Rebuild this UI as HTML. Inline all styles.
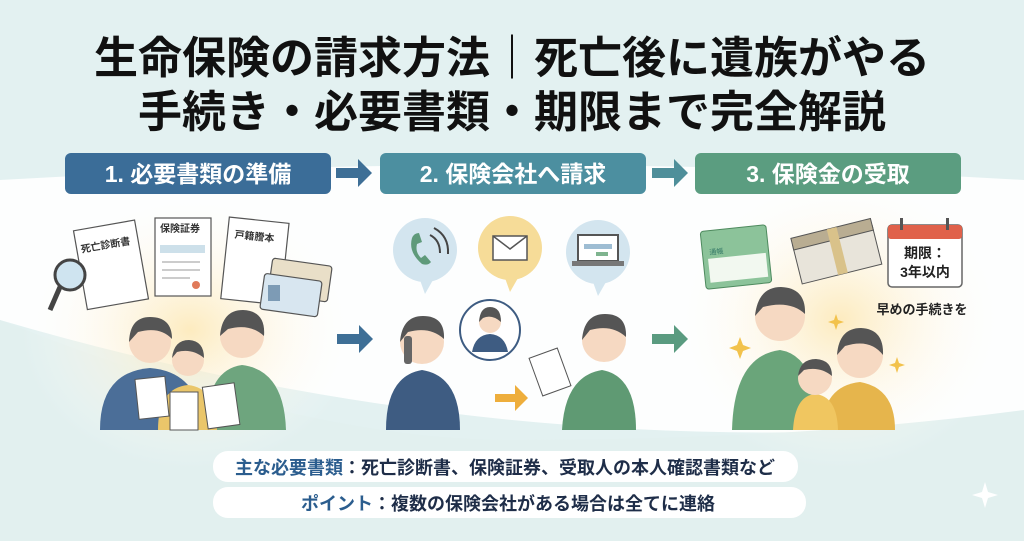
<!DOCTYPE html>
<html><head><meta charset="utf-8"><style>
html,body{margin:0;padding:0}
body{width:1024px;height:541px;overflow:hidden;font-family:"Liberation Sans","Noto Sans CJK JP",sans-serif;}
svg text{font-family:"Liberation Sans","Noto Sans CJK JP",sans-serif;}
</style></head><body>
<svg width="1024" height="541" viewBox="0 0 1024 541" xmlns="http://www.w3.org/2000/svg">
<defs>
<radialGradient id="glow" cx="0.5" cy="0.5" r="0.5">
<stop offset="0" stop-color="#fde9b8" stop-opacity="0.9"/><stop offset="1" stop-color="#fff" stop-opacity="0"/></radialGradient>
</defs>
<rect width="1024" height="541" fill="#e3f1f1"/>
<path d="M0 180 Q512 150 1024 180 L1024 420 Q512 470 0 320 Z" fill="#fdfefe"/>
<path d="M0 320 Q300 440 512 440 Q800 440 1024 410 L1024 541 L0 541Z" fill="#e2f0ef"/>
<ellipse cx="190" cy="330" rx="170" ry="140" fill="url(#glow)"/>
<ellipse cx="840" cy="320" rx="170" ry="150" fill="url(#glow)"/>

<text x="512" y="73" font-size="44" font-weight="bold" text-anchor="middle" fill="#111">生命保険の請求方法｜死亡後に遺族がやる</text>
<text x="512" y="127" font-size="44" font-weight="bold" text-anchor="middle" fill="#111">手続き・必要書類・期限まで完全解説</text>

<rect x="65" y="153" width="266" height="41" rx="6" fill="#3b6d98"/>
<text x="198" y="182" font-size="23" font-weight="bold" fill="#fff" text-anchor="middle">1. 必要書類の準備</text>
<rect x="380" y="153" width="266" height="41" rx="6" fill="#4c8fa0"/>
<text x="513" y="182" font-size="23" font-weight="bold" fill="#fff" text-anchor="middle">2. 保険会社へ請求</text>
<rect x="695" y="153" width="266" height="41" rx="6" fill="#5b9d80"/>
<text x="828" y="182" font-size="23" font-weight="bold" fill="#fff" text-anchor="middle">3. 保険金の受取</text>
<path d="M336 168h22v-9l14 14-14 14v-9h-22z" fill="#3e6f96"/>
<path d="M652 168h22v-9l14 14-14 14v-9h-22z" fill="#4f8f9a"/>
<path d="M337 334h22v-9l14 14-14 14v-9h-22z" fill="#3e6f96"/>
<path d="M652 334h22v-9l14 14-14 14v-9h-22z" fill="#5a9b80"/>
<path d="M495 394h20v-9l13 13-13 13v-9h-20z" fill="#eeae3c"/>

<g stroke="#555" stroke-width="1.2">
<rect x="80" y="225" width="62" height="80" fill="#fff" transform="rotate(-10 110 265)"/>
<rect x="155" y="218" width="56" height="78" fill="#fff"/>
<rect x="225" y="220" width="60" height="82" fill="#fff" transform="rotate(6 255 260)"/>
<rect x="270" y="262" width="60" height="36" rx="3" fill="#e9dfc8" transform="rotate(8 300 280)"/>
<rect x="262" y="277" width="58" height="36" rx="3" fill="#d8e6f0" transform="rotate(8 290 295)"/>
</g>
<text x="84" y="248" font-size="10" font-weight="bold" fill="#333" transform="rotate(-10 110 265)">死亡診断書</text>
<text x="160" y="232" font-size="10" font-weight="bold" fill="#333">保険証券</text>
<text x="232" y="240" font-size="10" font-weight="bold" fill="#333" transform="rotate(6 255 260)">戸籍謄本</text>
<rect x="160" y="245" width="45" height="8" fill="#cde0ea"/>
<g stroke="#999" stroke-width="1"><line x1="162" y1="262" x2="200" y2="262"/><line x1="162" y1="270" x2="200" y2="270"/><line x1="162" y1="278" x2="190" y2="278"/></g>
<circle cx="196" cy="285" r="4" fill="#e07a5a"/>
<rect x="268" y="285" width="12" height="16" fill="#7d9bb5"/>
<circle cx="70" cy="275" r="15" fill="#cfe4f0" stroke="#444" stroke-width="3"/>
<line x1="60" y1="287" x2="50" y2="310" stroke="#444" stroke-width="5"/>

<path d="M100 430 Q100 372 150 368 Q200 372 204 430Z" fill="#4b6e98"/>
<circle cx="150" cy="342" r="21" fill="#f6d9c2"/><path d="M129 342 Q130 317 150 317 Q172 317 172 339 Q160 326 138 332Z" fill="#555"/>
<path d="M206 430 Q206 370 242 365 Q284 370 286 430Z" fill="#6ea57e"/>
<circle cx="242" cy="336" r="22" fill="#f6d9c2"/><path d="M220 336 Q222 310 243 310 Q266 311 264 336 Q250 323 228 329Z" fill="#555"/>
<path d="M158 430 Q158 388 188 385 Q217 388 217 430Z" fill="#eac66a"/>
<circle cx="188" cy="360" r="16" fill="#f6d9c2"/><path d="M172 358 Q174 340 189 340 Q204 341 204 358 Q192 348 177 352Z" fill="#555"/>
<g fill="#fff" stroke="#555" stroke-width="1"><rect x="137" y="378" width="30" height="40" transform="rotate(-6 150 398)"/><rect x="170" y="392" width="28" height="38"/><rect x="205" y="385" width="32" height="42" transform="rotate(-8 220 405)"/></g>

<circle cx="425" cy="250" r="32" fill="#d3e5ef"/><path d="M420 280 l5 14 l8-14z" fill="#d3e5ef"/>
<circle cx="510" cy="248" r="32" fill="#f6dc98"/><path d="M505 278 l5 14 l8-14z" fill="#f6dc98"/>
<circle cx="598" cy="252" r="32" fill="#d3e5ef"/><path d="M593 282 l5 14 l8-14z" fill="#d3e5ef"/>
<path d="M412 238 q-4 14 10 26 q6 2 9-2 l-6-7 l-4 3 q-6-6-4-14 l5-2 l-3-9 q-5 0-7 5z" fill="#5f9a7a"/>
<path d="M430 235 q10 5 10 18 M434 228 q15 8 14 26" stroke="#444" stroke-width="2" fill="none"/>
<rect x="493" y="236" width="34" height="24" fill="#fff" stroke="#555" stroke-width="1.5"/><path d="M493 236 l17 13 l17-13" stroke="#555" stroke-width="1.5" fill="none"/>
<rect x="578" y="235" width="40" height="26" fill="#fff" stroke="#555" stroke-width="2"/><rect x="572" y="261" width="52" height="5" fill="#777"/>
<rect x="584" y="244" width="28" height="5" fill="#9ebdd3"/><rect x="596" y="252" width="12" height="4" fill="#7fb48f"/>

<path d="M386 430 Q386 376 422 370 Q460 376 460 430Z" fill="#3e5c82"/>
<circle cx="422" cy="342" r="22" fill="#f6d9c2"/><path d="M400 342 Q402 316 423 316 Q445 316 444 339 Q430 326 408 332Z" fill="#555"/>
<rect x="404" y="336" width="8" height="28" rx="3" fill="#666"/>
<circle cx="490" cy="330" r="30" fill="#fff" stroke="#3e5c82" stroke-width="2"/>
<circle cx="490" cy="322" r="11" fill="#f6d9c2"/><path d="M479 322 Q480 307 490 307 Q501 307 501 322 Q492 314 483 318Z" fill="#555"/>
<path d="M472 352 Q475 335 490 334 Q505 335 508 352Z" fill="#3e5c82"/>
<path d="M562 430 Q565 376 602 370 Q636 376 636 430Z" fill="#5f9a73"/>
<circle cx="604" cy="340" r="22" fill="#f6d9c2"/><path d="M582 340 Q584 314 605 314 Q627 314 626 337 Q612 324 590 330Z" fill="#555"/>
<rect x="535" y="352" width="30" height="40" fill="#fff" stroke="#555" transform="rotate(-20 550 372)"/>

<rect x="703" y="228" width="66" height="58" rx="3" fill="#8cc39a" stroke="#4e8a5e" transform="rotate(-6 736 257)"/>
<rect x="708" y="256" width="58" height="24" fill="#f2f8f0" transform="rotate(-6 736 257)"/>
<text x="710" y="252" font-size="7" fill="#376" transform="rotate(-6 736 257)">通帳</text>
<g transform="rotate(-14 835 250)"><rect x="795" y="235" width="82" height="40" fill="#e8e4da" stroke="#555"/><rect x="795" y="228" width="82" height="12" fill="#b9ad92" stroke="#555"/><rect x="832" y="228" width="10" height="47" fill="#d9c28a"/></g>
<rect x="888" y="225" width="74" height="62" rx="4" fill="#fff" stroke="#666" stroke-width="1.5"/>
<rect x="888" y="225" width="74" height="14" rx="3" fill="#e0614a"/>
<rect x="900" y="218" width="3" height="12" fill="#555"/><rect x="946" y="218" width="3" height="12" fill="#555"/>
<text x="925" y="258" font-size="14" font-weight="bold" text-anchor="middle" fill="#222">期限：</text>
<text x="925" y="277" font-size="14" font-weight="bold" text-anchor="middle" fill="#222">3年以内</text>
<text x="922" y="314" font-size="13" font-weight="bold" text-anchor="middle" fill="#222">早めの手続きを</text>
<path d="M732 430 Q734 356 780 350 Q818 356 818 430Z" fill="#6aa57a"/>
<circle cx="780" cy="316" r="25" fill="#f6d9c2"/><path d="M755 316 Q758 287 781 287 Q806 288 805 314 Q790 300 763 307Z" fill="#555"/>
<path d="M822 430 Q823 386 860 382 Q895 388 895 430Z" fill="#e6b54c"/>
<circle cx="860" cy="355" r="23" fill="#f6d9c2"/><path d="M837 355 Q839 328 861 328 Q884 329 883 355 Q870 338 845 346Z" fill="#555"/>
<path d="M793 430 Q795 396 815 394 Q837 396 838 430Z" fill="#f0c660"/>
<circle cx="815" cy="378" r="17" fill="#f6d9c2"/><path d="M798 376 Q800 359 816 359 Q832 360 832 376 Q820 366 804 370Z" fill="#555"/>
<g fill="#f2c24c"><path d="M740 337 l3 8 l8 3 l-8 3 l-3 8 l-3-8 l-8-3 l8-3z"/><path d="M836 314 l2 6 l6 2 l-6 2 l-2 6 l-2-6 l-6-2 l6-2z"/><path d="M897 357 l2 6 l6 2 l-6 2 l-2 6 l-2-6 l-6-2 l6-2z"/></g>

<rect x="213" y="451" width="585" height="31" rx="15" fill="#fff"/>
<rect x="213" y="487" width="593" height="31" rx="15" fill="#fff"/>
<text x="505" y="474" font-size="18" font-weight="bold" text-anchor="middle" fill="#1e2d48"><tspan fill="#2b5d8e">主な必要書類</tspan>：死亡診断書、保険証券、受取人の本人確認書類など</text>
<text x="508" y="510" font-size="18" font-weight="bold" text-anchor="middle" fill="#1e2d48"><tspan fill="#2b5d8e">ポイント</tspan>：複数の保険会社がある場合は全てに連絡</text>
<path d="M985 482 l3 10 l10 3 l-10 3 l-3 10 l-3-10 l-10-3 l10-3z" fill="#fff"/>
</svg>
</body></html>
